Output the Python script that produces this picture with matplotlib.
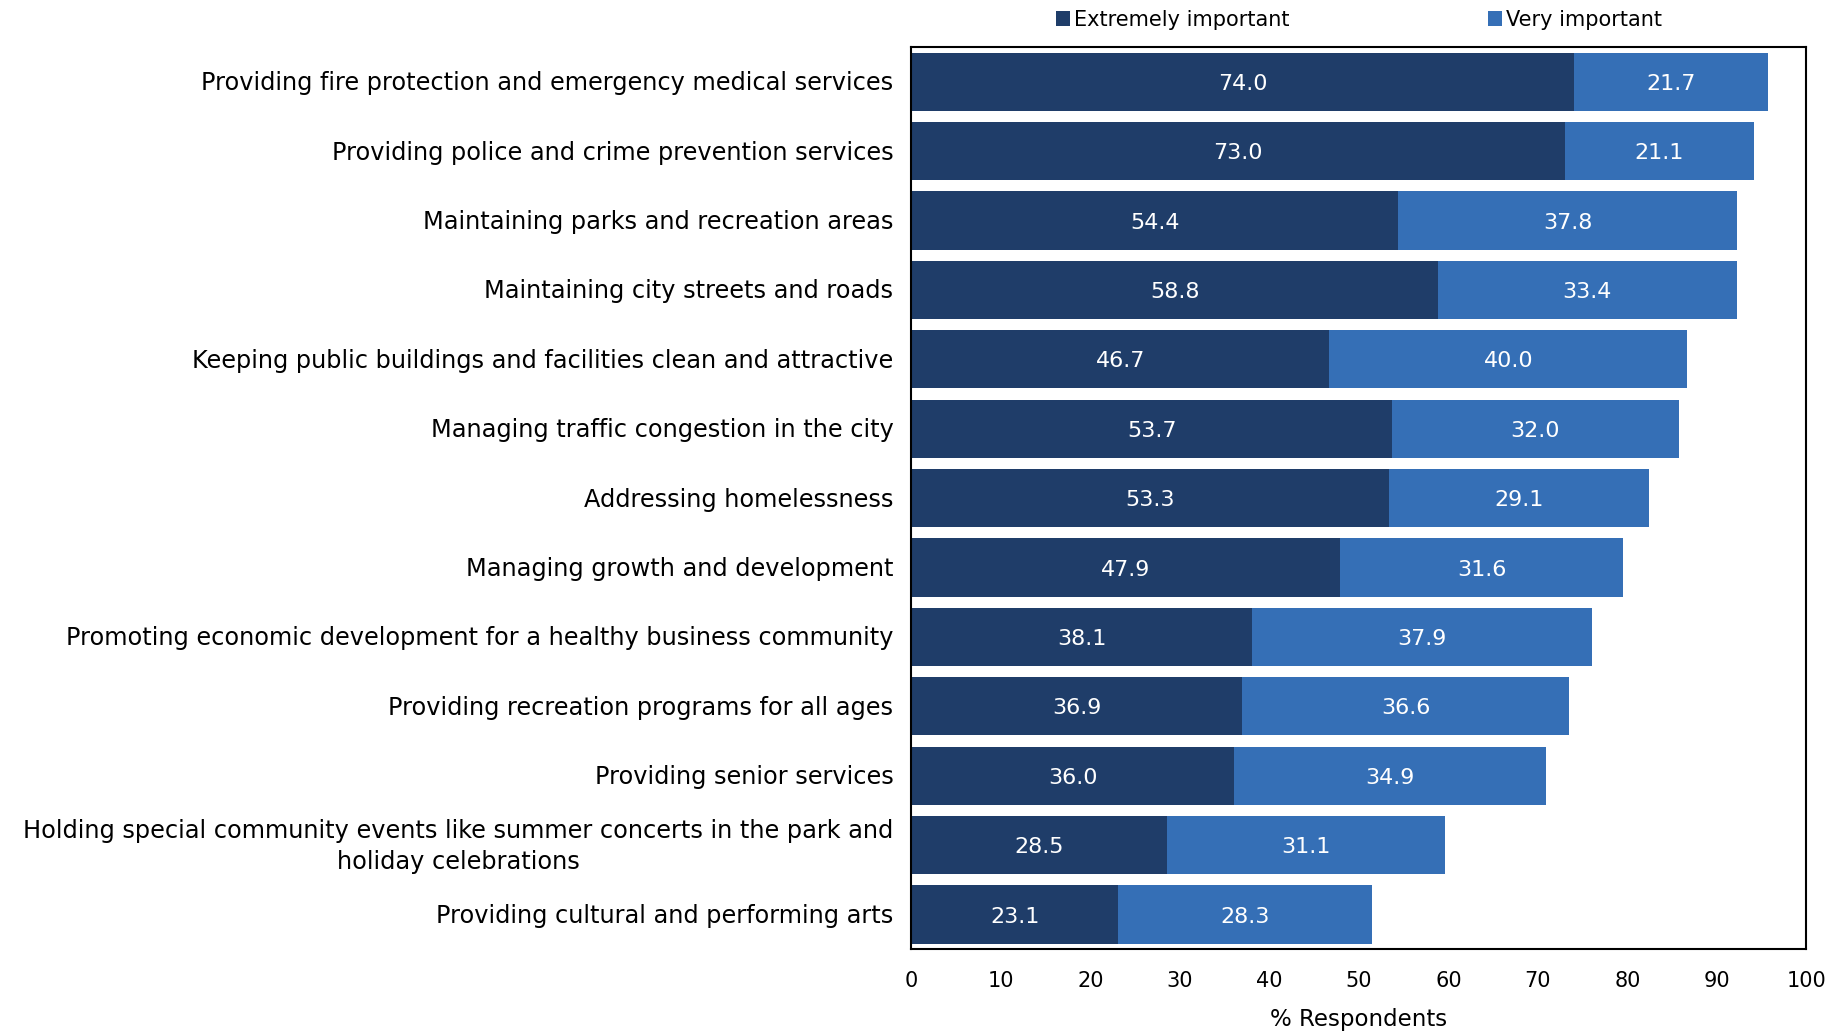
import matplotlib
matplotlib.use('Agg')
import matplotlib.pyplot as plt
import numpy as np

# Survey data, top to bottom as shown in the chart
services = [
  'Providing fire protection and emergency medical services',
  'Providing police and crime prevention services',
  'Maintaining parks and recreation areas',
  'Maintaining city streets and roads',
  'Keeping public buildings and facilities clean and attractive',
  'Managing traffic congestion in the city',
  'Addressing homelessness',
  'Managing growth and development',
  'Promoting economic development for a healthy business community',
  'Providing recreation programs for all ages',
  'Providing senior services',
  'Holding special community events like summer concerts in the park and\nholiday celebrations',
  'Providing cultural and performing arts',
]
extremely = [74.0, 73.0, 54.4, 58.8, 46.7, 53.7, 53.3, 47.9, 38.1, 36.9, 36.0, 28.5, 23.1]
very = [21.7, 21.1, 37.8, 33.4, 40.0, 32.0, 29.1, 31.6, 37.9, 36.6, 34.9, 31.1, 28.3]
series_names = ['Extremely important', 'Very important']
xticks = [0, 10, 20, 30, 40, 50, 60, 70, 80, 90, 100]

dark = '#1F3D69'
light = '#356FB6'

plt.rcParams['font.family'] = ['DejaVu Sans']

fig = plt.figure(figsize=(18.34, 10.34), dpi=100)
ax = fig.add_axes([0.497, 0.082, 0.488, 0.8725])

y = np.arange(len(services))
h = 0.84
b0 = ax.barh(y, extremely, h, color=dark, label=series_names[0])
b1 = ax.barh(y, very, h, left=extremely, color=light, label=series_names[1])

# White value labels in the middle of each segment
for bars in (b0, b1):
  for bar in bars:
    w = bar.get_width()
    ax.text(bar.get_x() + w / 2, bar.get_y() + bar.get_height() / 2, '%.1f' % w,
            color='white', ha='center', va='center_baseline', fontsize=16)

ax.set_ylim(len(services) - 0.5, -0.5)
ax.set_xlim(0, 100)
ax.tick_params(axis='both', length=0)
ax.tick_params(axis='x', pad=16)
ax.set_yticks(y)
ax.set_yticklabels([])
# category labels drawn by hand so the wrapped one can be centred
for yi, name in zip(y, services):
  ax.annotate(name, xy=(0, yi), xycoords=ax.get_yaxis_transform(),
              xytext=(-13, -1), textcoords='offset points',
              ha='right', va='center', multialignment='center',
              linespacing=1.4, fontsize=17.3)
ax.set_xticks(xticks)
ax.set_xticklabels([str(t) for t in xticks], fontsize=15)
ax.set_xlabel('% Respondents', fontsize=16.5, labelpad=12)

for s in ax.spines.values():
  s.set_linewidth(1.5)
  s.set_color('black')

ax.legend(loc='lower center', bbox_to_anchor=(0.5, 1.017), ncol=2, frameon=False,
          fontsize=15, handlelength=0.7, handleheight=0.7, handletextpad=0.2,
          columnspacing=9.5, borderaxespad=0.0, borderpad=0.1)

fig.savefig('out.png', dpi=100)
